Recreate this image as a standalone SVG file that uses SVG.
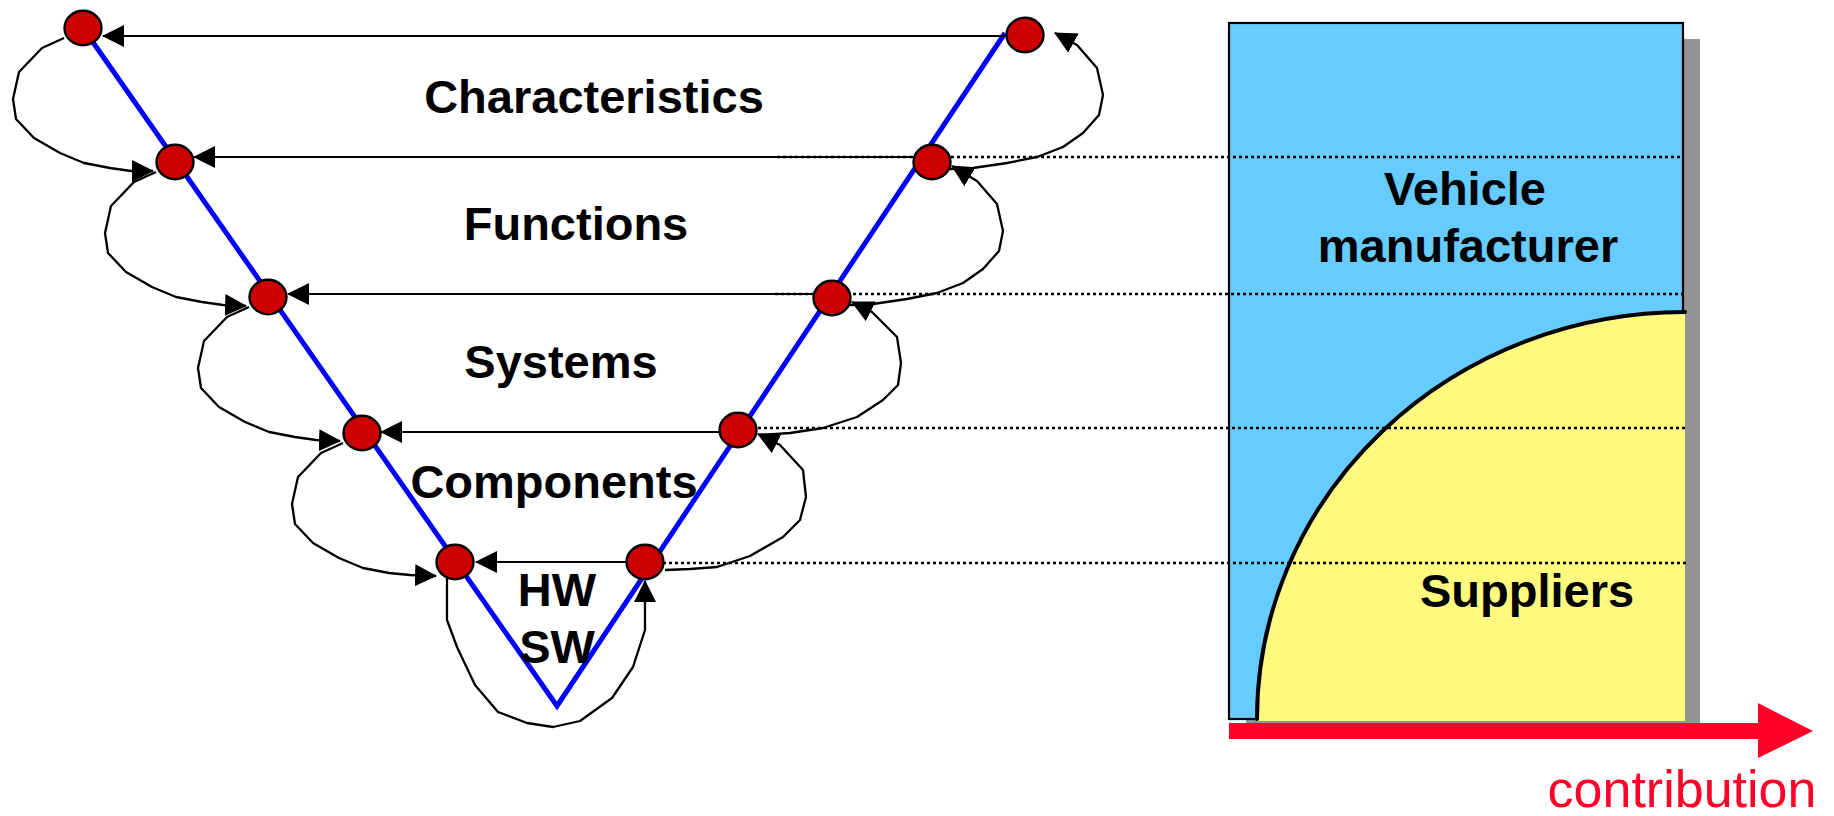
<svg xmlns="http://www.w3.org/2000/svg" width="1834" height="816" viewBox="0 0 1834 816">
<defs>
<marker id="ah" viewBox="0 0 22 22" refX="21" refY="11" markerWidth="22" markerHeight="22" markerUnits="userSpaceOnUse" orient="auto"><path d="M0,0 L22,11 L0,22 z" fill="#000"/></marker>
<style>
.node{fill:#CC0000;stroke:#000;stroke-width:2.4}
.hline{fill:none;stroke:#000;stroke-width:2.2;marker-end:url(#ah)}
.loop{fill:none;stroke:#000;stroke-width:2.3;stroke-linejoin:round;marker-end:url(#ah)}
.dot{fill:none;stroke:#000;stroke-width:2.4;stroke-dasharray:3 3}
.lbl{font-family:"Liberation Sans",Arial,sans-serif;font-weight:bold;font-size:47px;fill:#000;text-anchor:middle}
</style>
</defs>
<rect width="1834" height="816" fill="#fff"/>
<g id="chart">
<rect x="1246" y="39" width="454" height="697" fill="#949494"/>
<rect x="1229" y="23" width="454" height="696" fill="#66CCFF" stroke="#000" stroke-width="2.2"/>
<path d="M1257,719 A428,407 0 0 1 1685,312 L1685,721 L1257,721 z" fill="#FFF97E"/>
<path d="M1257,719 A428,407 0 0 1 1685,312" fill="none" stroke="#000" stroke-width="4" stroke-linecap="round"/>
<line class="dot" x1="777" y1="157" x2="1683" y2="157"/>
<line class="dot" x1="775" y1="294" x2="1683" y2="294"/>
<line class="dot" x1="740" y1="428" x2="1688" y2="428"/>
<line class="dot" x1="645" y1="563" x2="1686" y2="563"/>
<rect x="1229" y="723" width="529" height="16" fill="#FF0028"/>
<polygon points="1758,703 1813,731 1758,758" fill="#FF0028"/>
<text class="lbl" x="1465" y="205">Vehicle</text>
<text class="lbl" x="1468" y="262">manufacturer</text>
<text class="lbl" x="1527" y="607">Suppliers</text>
<text x="1682" y="807" font-family="Liberation Sans, Arial, sans-serif" font-size="52" fill="#FF0028" text-anchor="middle">contribution</text>
</g>
<polyline id="vline" points="83,28 557,706 1005,33" fill="none" stroke="#0000FF" stroke-width="5" stroke-linejoin="miter"/>
<g id="connectors">
<line class="hline" x1="1005" y1="36" x2="103" y2="36"/>
<line class="hline" x1="932" y1="157" x2="194" y2="157"/>
<line class="hline" x1="832" y1="294" x2="288" y2="294"/>
<line class="hline" x1="738" y1="432" x2="381" y2="432"/>
<line class="hline" x1="645" y1="562" x2="476" y2="562"/>
<polyline class="loop" points="64,38 42,48 19,72 13,99 16,119 34,138 60,153 84,163 110,168 131,171 153,171"/>
<polyline class="loop" points="156,172 134,182 111,206 105,233 108,253 126,272 152,287 176,297 202,302 223,305 246,306"/>
<polyline class="loop" points="249,307 227,317 204,341 198,368 201,388 219,407 245,422 269,432 295,437 316,440 340,441"/>
<polyline class="loop" points="343,443 321,453 298,477 292,504 295,524 313,543 339,558 363,568 389,573 410,575 436,576"/>
<polyline class="loop" points="950,169 973,168 1007,163 1037,157 1063,147 1083,133 1099,115 1103,95 1097,68 1077,45 1055,33"/>
<polyline class="loop" points="850,305 873,304 907,299 937,293 963,283 983,269 999,251 1003,231 997,204 977,181 952,166"/>
<polyline class="loop" points="760,435 790,433 823,428 857,417 883,400 898,385 901,363 897,337 872,312 852,302"/>
<polyline class="loop" points="665,570 690,569 717,567 750,556 783,537 800,520 806,497 803,470 780,445 758,434"/>
<polyline class="loop" points="447,575 447,620 457,647 475,685 498,712 527,723 553,727 580,721 612,698 633,667 645,630 645,602 645,581"/>
</g>
<g id="L1"><ellipse class="node" cx="83" cy="28" rx="18.5" ry="17.3"/></g>
<g id="L2"><ellipse class="node" cx="175" cy="162" rx="18.5" ry="17.3"/></g>
<g id="L3"><ellipse class="node" cx="268" cy="297" rx="18.5" ry="17.3"/></g>
<g id="L4"><ellipse class="node" cx="362" cy="433" rx="18.5" ry="17.3"/></g>
<g id="L5"><ellipse class="node" cx="455" cy="562" rx="18.5" ry="17.3"/></g>
<g id="R1"><ellipse class="node" cx="1025" cy="35" rx="18.5" ry="17.3"/></g>
<g id="R2"><ellipse class="node" cx="932" cy="162" rx="18.5" ry="17.3"/></g>
<g id="R3"><ellipse class="node" cx="832" cy="298" rx="18.5" ry="17.3"/></g>
<g id="R4"><ellipse class="node" cx="738" cy="430" rx="18.5" ry="17.3"/></g>
<g id="R5"><ellipse class="node" cx="645" cy="562" rx="18.5" ry="17.3"/></g>
<g id="labels">
<text class="lbl" x="594" y="113">Characteristics</text>
<text class="lbl" x="576" y="240">Functions</text>
<text class="lbl" x="561" y="378">Systems</text>
<text class="lbl" x="554" y="498">Components</text>
<text class="lbl" x="557" y="606">HW</text>
<text class="lbl" x="557" y="663">SW</text>
</g>
</svg>
